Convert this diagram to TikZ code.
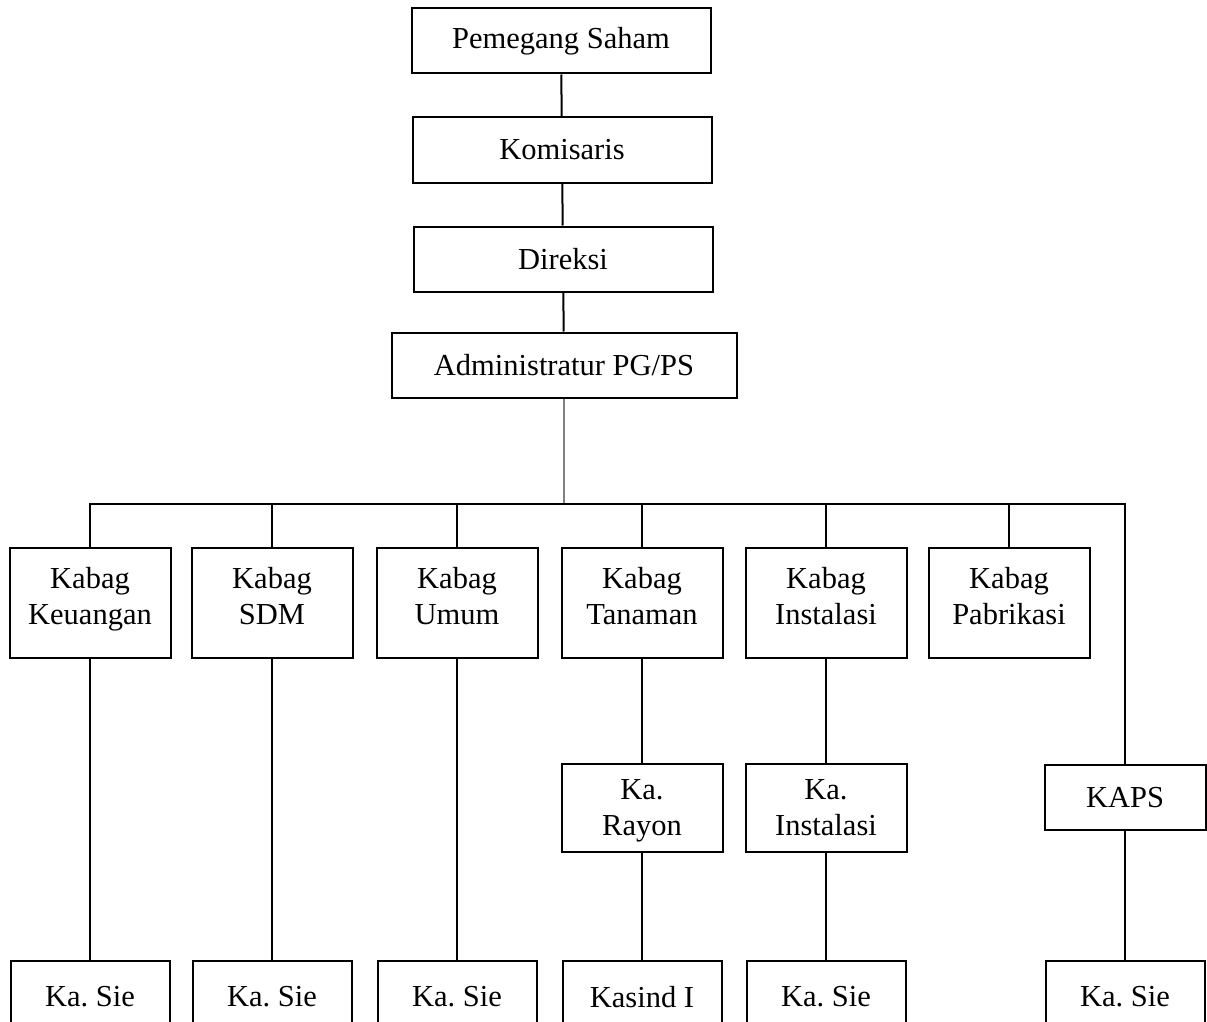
\documentclass[tikz,border=0pt]{standalone}
\usepackage{fontspec}
\setmainfont{Liberation Serif}
\usetikzlibrary{positioning}
\tikzstyle{unit} = [draw, line width=2pt, inner sep=0pt, align=center, font=\fontsize{30.5}{36}\selectfont\frenchspacing]
\tikzstyle{head} = [unit, minimum width=299pt, minimum height=65pt]
\tikzstyle{kabag} = [unit, minimum width=161pt, minimum height=110pt, text depth=15pt]
\tikzstyle{sub} = [unit, minimum width=161pt, minimum height=88pt, text depth=0pt]
\tikzstyle{sie} = [unit, minimum width=159pt, minimum height=72pt]
\tikzstyle{link} = [line width=2pt]

\begin{document}
\begin{tikzpicture}[x=1pt,y=-1pt]
\useasboundingbox (0,0) rectangle (1207,1022);
\clip (0,0) rectangle (1207,1022);
% top of the chart
\node (ps) [head] at (561,41) {Pemegang Saham};
\node (kom) [head] at (562,150) {Komisaris};
\node (dir) [head] at (563,259) {Direksi};
\node (adm) [head, minimum width=345pt] at (564,365) {Administratur PG/PS};
\coordinate (hub) at (564,504);
% kabag row
\node (keu) [kabag] at (90,603) {Kabag\\Keuangan};
\node (sdm) [kabag] at (272,603) {Kabag\\SDM};
\node (umum) [kabag] at (457,603) {Kabag\\Umum};
\node (tan) [kabag] at (642,603) {Kabag\\Tanaman};
\node (inst) [kabag] at (826,603) {Kabag\\Instalasi};
\node (pab) [kabag] at (1009,603) {Kabag\\Pabrikasi};
% second level
\node (ray) [sub] at (642,808) {Ka.\\Rayon};
\node (kains) [sub] at (826,808) {Ka.\\Instalasi};
\node (kaps) [sub, minimum height=65pt] at (1125,797) {KAPS};
% bottom row
\node (sie1) [sie] at (90,997) {Ka. Sie};
\node (sie2) [sie] at (272,997) {Ka. Sie};
\node (sie3) [sie] at (457,997) {Ka. Sie};
\node (kas) [sie] at (642,997) {Kasind I};
\node (sie4) [sie] at (826,997) {Ka. Sie};
\node (sie5) [sie] at (1125,997) {Ka. Sie};
% lines
\draw [link] (ps)--(kom);
\draw [link] (kom)--(dir);
\draw [link] (dir)--(adm);
\draw [link, line width=1.3pt, gray] (adm)--(hub);
\draw [link] (keu.north) |- (hub) -| (kaps.north);
\draw [link] (sdm.north)--(sdm.north |- hub);
\draw [link] (umum.north)--(umum.north |- hub);
\draw [link] (tan.north)--(tan.north |- hub);
\draw [link] (inst.north)--(inst.north |- hub);
\draw [link] (pab.north)--(pab.north |- hub);
\draw [link] (keu)--(sie1);
\draw [link] (sdm)--(sie2);
\draw [link] (umum)--(sie3);
\draw [link] (tan)--(ray);
\draw [link] (ray)--(kas);
\draw [link] (inst)--(kains);
\draw [link] (kains)--(sie4);
\draw [link] (kaps)--(sie5);
\end{tikzpicture}
\end{document}
